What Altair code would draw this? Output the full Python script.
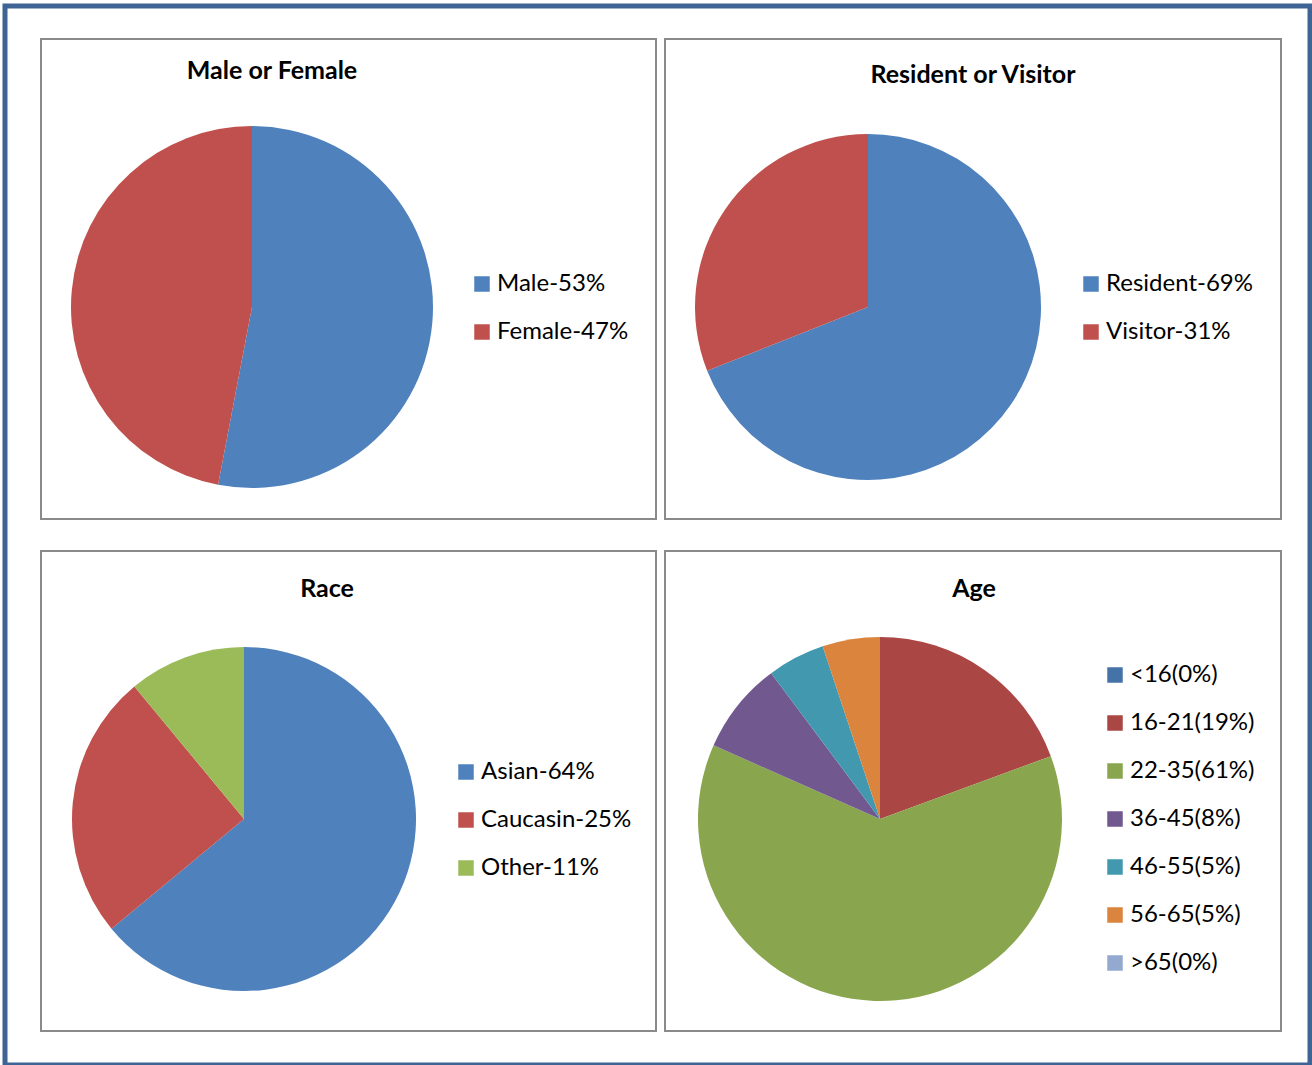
import altair as alt
import pandas as pd

# ---- survey breakdowns -------------------------------------------------
gender_labels = ["Male-53%", "Female-47%"]
gender_values = [53, 47]

residency_labels = ["Resident-69%", "Visitor-31%"]
residency_values = [69, 31]

race_labels = ["Asian-64%", "Caucasin-25%", "Other-11%"]
race_values = [64, 25, 11]

age_labels = ["<16(0%)", "16-21(19%)", "22-35(61%)", "36-45(8%)",
              "46-55(5%)", "56-65(5%)", ">65(0%)"]
age_values = [0, 19, 61, 8, 5, 5, 0]

panel_titles = ["Male or Female", "Resident or Visitor", "Race", "Age"]

# ---- styling -----------------------------------------------------------
FONT = "Lato"
BLUE, RED, GREEN = "#4F81BD", "#C0504D", "#9BBB59"
AGE_COLORS = ["#4572A7", "#AA4643", "#89A54E", "#71588F",
              "#4198AF", "#DB843D", "#93A9CF"]
FRAME = "#8A8A8A"
OUTER = "#3D6495"

# canvas and padding (the view stroke forms the outer blue frame)
PAD_L, PAD_T, PAD_R, PAD_B = 5, 6, 2, 0
W, H = 1312 - PAD_L - PAD_R, 1065 - PAD_T - PAD_B


def px(x):
    return x - PAD_L


def py(y):
    return y - PAD_T


# panel layout in page pixels: frame box, title anchor, pie centre/radius, legend origin
panels = [
    dict(labels=gender_labels, values=gender_values, colors=[BLUE, RED],
         box=(41, 39, 656, 519), title=(272, 79), pie=(252, 307, 181), legend=(470, 272)),
    dict(labels=residency_labels, values=residency_values, colors=[BLUE, RED],
         box=(665, 39, 1281, 519), title=(973, 83), pie=(868, 307, 173), legend=(1079, 272)),
    dict(labels=race_labels, values=race_values, colors=[BLUE, RED, GREEN],
         box=(41, 551, 656, 1031), title=(327, 597), pie=(244, 819, 172), legend=(454, 760)),
    dict(labels=age_labels, values=age_values, colors=AGE_COLORS,
         box=(665, 551, 1281, 1031), title=(974, 597), pie=(880, 819, 182), legend=(1103, 663)),
]

layers = []
for title, p in zip(panel_titles, panels):
    x0, y0, x1, y1 = p["box"]
    frame_df = pd.DataFrame({"title": [title]})

    frame = alt.Chart(frame_df).mark_rect(
        fillOpacity=0, stroke=FRAME, strokeWidth=2
    ).encode(
        x=alt.value(px(x0)), x2=alt.value(px(x1)),
        y=alt.value(py(y0)), y2=alt.value(py(y1)),
    )

    tx, ty = p["title"]
    heading = alt.Chart(frame_df).mark_text(
        font=FONT, fontSize=25, fontWeight="bold", color="black",
        align="center", baseline="alphabetic"
    ).encode(
        x=alt.value(px(tx)), y=alt.value(py(ty)), text="title:N"
    )

    df = pd.DataFrame({
        "label": p["labels"],
        "value": p["values"],
        "order": list(range(len(p["labels"]))),
    })
    cx, cy, r = p["pie"]
    lx, ly = p["legend"]
    pie = alt.Chart(df).mark_arc().encode(
        theta=alt.Theta("value:Q", stack="normalize"),
        order=alt.Order("order:Q"),
        color=alt.Color(
            "label:N",
            sort=p["labels"],
            scale=alt.Scale(domain=p["labels"], range=p["colors"]),
            legend=alt.Legend(
                title=None, orient="none", padding=0,
                legendX=px(lx), legendY=py(ly),
                symbolType="square", symbolSize=240, symbolStrokeWidth=0,
                labelFont=FONT, labelFontSize=24, labelColor="black",
                labelOffset=3, labelLimit=0, rowPadding=24,
            ),
        ),
        x=alt.value(px(cx)), y=alt.value(py(cy)), radius=alt.value(r),
    )

    layers += [frame, heading, pie]

chart = alt.layer(*layers).resolve_scale(color="independent").properties(
    width=W, height=H,
    padding={"left": PAD_L, "top": PAD_T, "right": PAD_R, "bottom": PAD_B},
    autosize=alt.AutoSizeParams(type="none"),
    background="white",
).configure_view(
    stroke=OUTER, strokeWidth=5
)

chart.save("out.html", embed_options={"renderer": "svg", "actions": False})
